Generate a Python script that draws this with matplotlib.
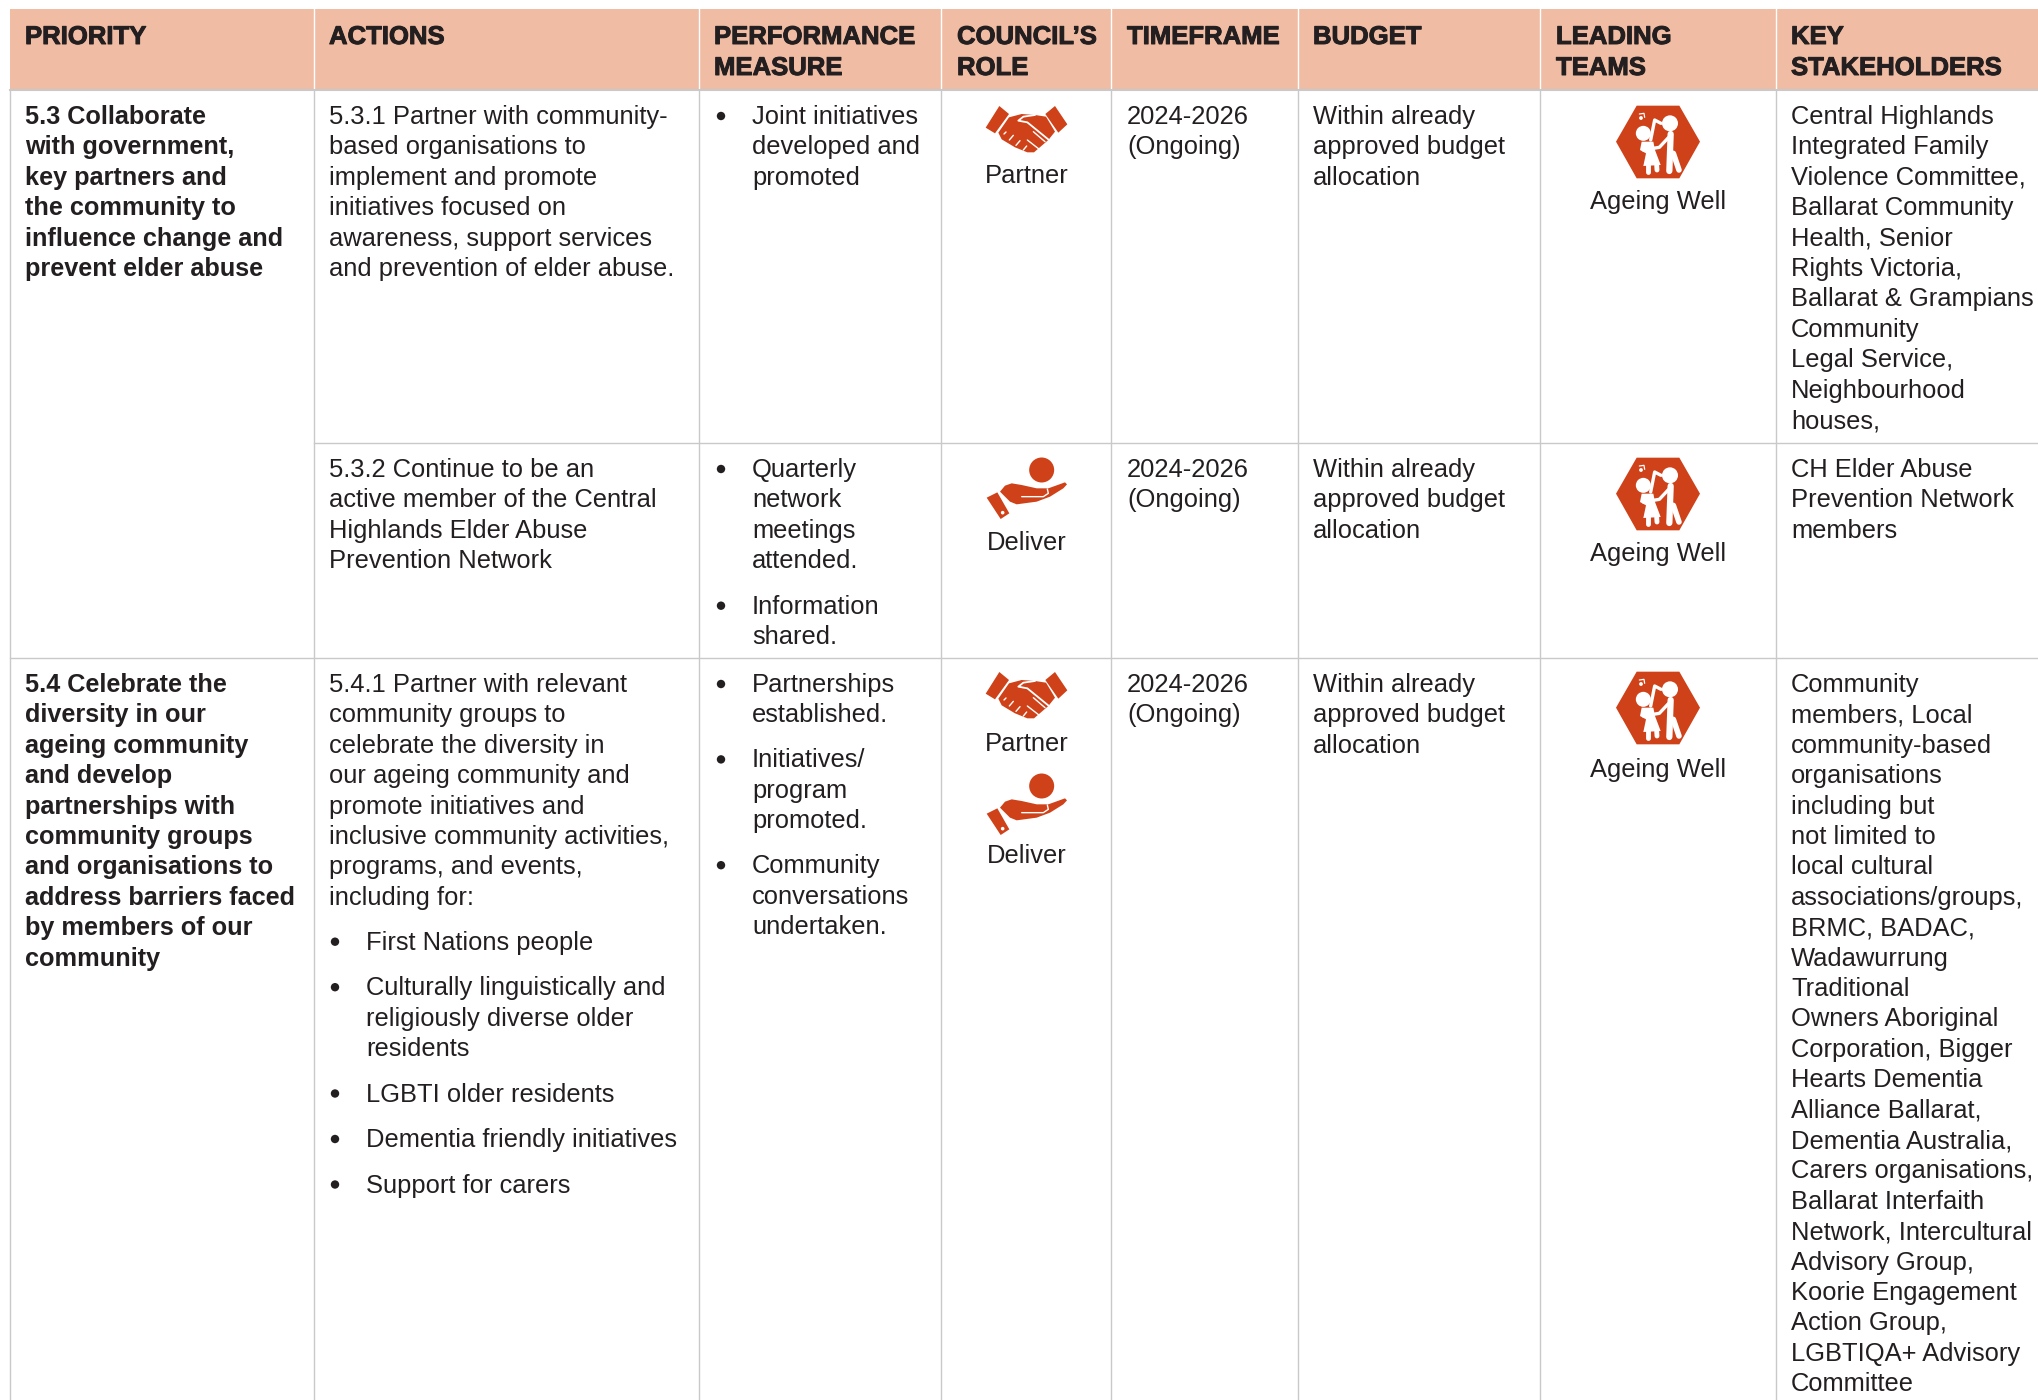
"""Action plan table page, redrawn in pixel coordinates."""

import matplotlib
matplotlib.use('Agg')
import matplotlib.pyplot as plt
import matplotlib.patheffects as pe
from matplotlib.patches import Polygon, Circle, Rectangle

plt.rcParams['font.family'] = ['Liberation Sans', 'DejaVu Sans']

RED = '#cf4119'
INK = '#231f20'
GRID = '#c9c9c9'
HEAD = '#f0bca3'
FS = 18.4
FS_BOLD = 18.15
FS_HEAD = 18.5
PITCH = 30.4

colX = [10, 314, 699, 941, 1111, 1298, 1540, 1776]
headX = [25, 329, 714, 957, 1127, 1313, 1556, 1791]
rowY = [90, 443, 658]

headers = [['PRIORITY'], ['ACTIONS'], ['PERFORMANCE', 'MEASURE'], ["COUNCIL’S", 'ROLE'],
           ['TIMEFRAME'], ['BUDGET'], ['LEADING', 'TEAMS'], ['KEY', 'STAKEHOLDERS']]

priority53 = ['5.3 Collaborate', 'with government,', 'key partners and', 'the community to',
              'influence change and', 'prevent elder abuse']
priority54 = ['5.4 Celebrate the', 'diversity in our', 'ageing community', 'and develop',
              'partnerships with', 'community groups', 'and organisations to',
              'address barriers faced', 'by members of our', 'community']

action531 = ['5.3.1 Partner with community-', 'based organisations to', 'implement and promote',
             'initiatives focused on', 'awareness, support services',
             'and prevention of elder abuse.']
action532 = ['5.3.2 Continue to be an', 'active member of the Central',
             'Highlands Elder Abuse', 'Prevention Network']
action541 = ['5.4.1 Partner with relevant', 'community groups to', 'celebrate the diversity in',
             'our ageing community and', 'promote initiatives and',
             'inclusive community activities,', 'programs, and events,', 'including for:']
action541Bullets = [['First Nations people'],
                    ['Culturally linguistically and', 'religiously diverse older', 'residents'],
                    ['LGBTI older residents'], ['Dementia friendly initiatives'],
                    ['Support for carers']]

measure531 = [['Joint initiatives', 'developed and', 'promoted']]
measure532 = [['Quarterly', 'network', 'meetings', 'attended.'], ['Information', 'shared.']]
measure541 = [['Partnerships', 'established.'], ['Initiatives/', 'program', 'promoted.'],
              ['Community', 'conversations', 'undertaken.']]

timeframe = ['2024-2026', '(Ongoing)']
budget = ['Within already', 'approved budget', 'allocation']

stake531 = ['Central Highlands', 'Integrated Family', 'Violence Committee,', 'Ballarat Community',
            'Health, Senior', 'Rights Victoria,', 'Ballarat & Grampians', 'Community',
            'Legal Service,', 'Neighbourhood', 'houses,']
stake532 = ['CH Elder Abuse', 'Prevention Network', 'members']
stake541 = ['Community', 'members, Local', 'community-based', 'organisations', 'including but',
            'not limited to', 'local cultural', 'associations/groups,', 'BRMC, BADAC,',
            'Wadawurrung', 'Traditional', 'Owners Aboriginal', 'Corporation, Bigger',
            'Hearts Dementia', 'Alliance Ballarat,', 'Dementia Australia,',
            'Carers organisations,', 'Ballarat Interfaith', 'Network, Intercultural',
            'Advisory Group,', 'Koorie Engagement', 'Action Group,', 'LGBTIQA+ Advisory',
            'Committee']

fig = plt.figure(figsize=(20.38, 14), dpi=100)
ax = fig.add_axes([0, 0, 1, 1])
ax.set_xlim(0, 2038)
ax.set_ylim(1400, 0)
ax.axis('off')


def put(x, y, lines, bold=False):
    for i, line in enumerate(lines):
        ax.text(x, y + i * PITCH, line, fontsize=FS_BOLD if bold else FS, color=INK,
                va='baseline', fontweight='bold' if bold else 'normal')
    return y + len(lines) * PITCH


def bullets(xDot, xText, y, items, gap=45.5):
    for item in items:
        ax.add_patch(Circle((xDot, y - 8), 4.2, color=INK, lw=0))
        put(xText, y, item)
        y += (len(item) - 1) * PITCH + gap


def shape(pts, ox, oy):
    return [(ox + px / 3, oy + py / 3) for px, py in pts]


def whiteLine(pts, ox, oy, lw):
    xy = shape(pts, ox, oy)
    ax.plot([p[0] for p in xy], [p[1] for p in xy], color='white', lw=lw,
            solid_capstyle='round', solid_joinstyle='round')


def handshake(ox, oy):
    for cuff in ([(178, 48), (207, 72), (165, 130), (137, 113)],
                 [(345, 48), (382, 103), (355, 128), (316, 72)]):
        ax.add_patch(Polygon(shape(cuff, ox, oy), color=RED, lw=0))
    body = [(207, 82), (245, 72), (285, 75), (318, 80), (345, 125), (325, 150),
            (282, 187), (262, 187), (245, 180), (225, 172), (205, 160), (185, 148), (175, 128)]
    ax.add_patch(Polygon(shape(body, ox, oy), color=RED, lw=0))
    whiteLine([(285, 75), (250, 80), (235, 92), (262, 97), (327, 150)], ox, oy, 1.3)
    for a, b in ([(262, 150), (298, 178)], [(280, 125), (315, 155)],
                 [(192, 132), (198, 126)], [(208, 150), (220, 136)],
                 [(228, 166), (240, 152)], [(250, 180), (260, 168)]):
        whiteLine([a, b], ox, oy, 1.0)


def hand(ox, oy):
    ax.add_patch(Circle((ox + 245 / 3, oy + 75 / 3), 12.5, color=RED, lw=0))
    ax.add_patch(Polygon(shape([(80, 158), (112, 142), (148, 205), (122, 222)], ox, oy),
                         color=RED, lw=0))
    palm = [(120, 140), (135, 122), (155, 115), (185, 120), (230, 130), (265, 130),
            (315, 112), (321, 118), (310, 130), (270, 155), (230, 170), (170, 178), (150, 170)]
    ax.add_patch(Polygon(shape(palm, ox, oy), color=RED, lw=0))
    whiteLine([(185, 155), (250, 155), (265, 145), (262, 132)], ox, oy, 1.0)
    ax.add_patch(Circle((ox + 128 / 3, oy + 203 / 3), 1.8, color='white', lw=0))


def ageing(ox, oy):
    hexa = [(168, 155), (230, 47), (358, 47), (420, 155), (358, 265), (230, 265)]
    ax.add_patch(Polygon(shape(hexa, ox, oy), color=RED, lw=0))
    ax.add_patch(Circle((ox + 330 / 3, oy + 100 / 3), 8, color='white', lw=0))
    ax.add_patch(Circle((ox + 250 / 3, oy + 130 / 3), 7.5, color='white', lw=0))
    dress = [(245, 155), (280, 155), (285, 180), (302, 225), (250, 228), (258, 190), (240, 180)]
    ax.add_patch(Polygon(shape(dress, ox, oy), color='white', lw=0))
    whiteLine([(332, 132), (328, 243)], ox, oy, 4.5)
    whiteLine([(340, 190), (357, 240)], ox, oy, 4)
    whiteLine([(328, 140), (298, 172), (250, 180)], ox, oy, 2.4)
    whiteLine([(303, 100), (284, 90), (272, 150)], ox, oy, 2.4)
    whiteLine([(265, 225), (265, 245)], ox, oy, 3.5)
    whiteLine([(290, 225), (291, 240)], ox, oy, 3.5)
    whiteLine([(238, 72), (252, 70), (254, 82)], ox, oy, 0.9)
    ax.add_patch(Circle((ox + 243 / 3, oy + 84 / 3), 1.9, color='white', lw=0))


def roleLabel(x, y, label):
    ax.text(x, y, label, fontsize=FS, color=INK, ha='center', va='baseline')


# header band and rules
ax.add_patch(Rectangle((colX[0], 9), 2038 - colX[0], rowY[0] - 9, color=HEAD, lw=0))
for x in colX[1:]:
    ax.plot([x, x], [9, rowY[0]], color='white', lw=1)
ax.plot([colX[0], 2038], [rowY[0], rowY[0]], color=GRID, lw=1.5)
ax.plot([colX[1], 2038], [rowY[1], rowY[1]], color=GRID, lw=1)
ax.plot([colX[0], 2038], [rowY[2], rowY[2]], color=GRID, lw=1)
for x in colX:
    ax.plot([x, x], [rowY[0], 1400], color=GRID, lw=1)

for x, lines in zip(headX, headers):
    for i, line in enumerate(lines):
        ax.text(x, 44 + i * 31, line, fontsize=FS_HEAD, color=INK, fontweight='bold',
                va='baseline', path_effects=[pe.withStroke(linewidth=0.7, foreground=INK)])

# body, one row at a time
base = [r + 34 for r in rowY]
put(25, base[0], priority53, bold=True)
put(25, base[2], priority54, bold=True)

put(329, base[0], action531)
put(329, base[1], action532)
after = put(329, base[2], action541)
bullets(335, 366, after + 14.5, action541Bullets)

bullets(721, 752, base[0], measure531)
bullets(721, 752, base[1], measure532)
bullets(721, 752, base[2], measure541, gap=45)

for b in base:
    put(1127, b, timeframe)
    put(1313, b, budget)

put(1791, base[0], stake531)
put(1791, base[1], stake532)
put(1791, base[2], stake541)

# role and team icons
handshake(940, 90)
roleLabel(1027, 183, 'Partner')
hand(960, 445)
roleLabel(1027, 550, 'Deliver')
handshake(940, 656)
roleLabel(1027, 751, 'Partner')
hand(960, 761)
roleLabel(1027, 863, 'Deliver')

for oy, y in ((90, 209), (442, 561), (656, 777)):
    ageing(1560, oy)
    roleLabel(1658, y, 'Ageing Well')

fig.savefig('out.png', dpi=100)
